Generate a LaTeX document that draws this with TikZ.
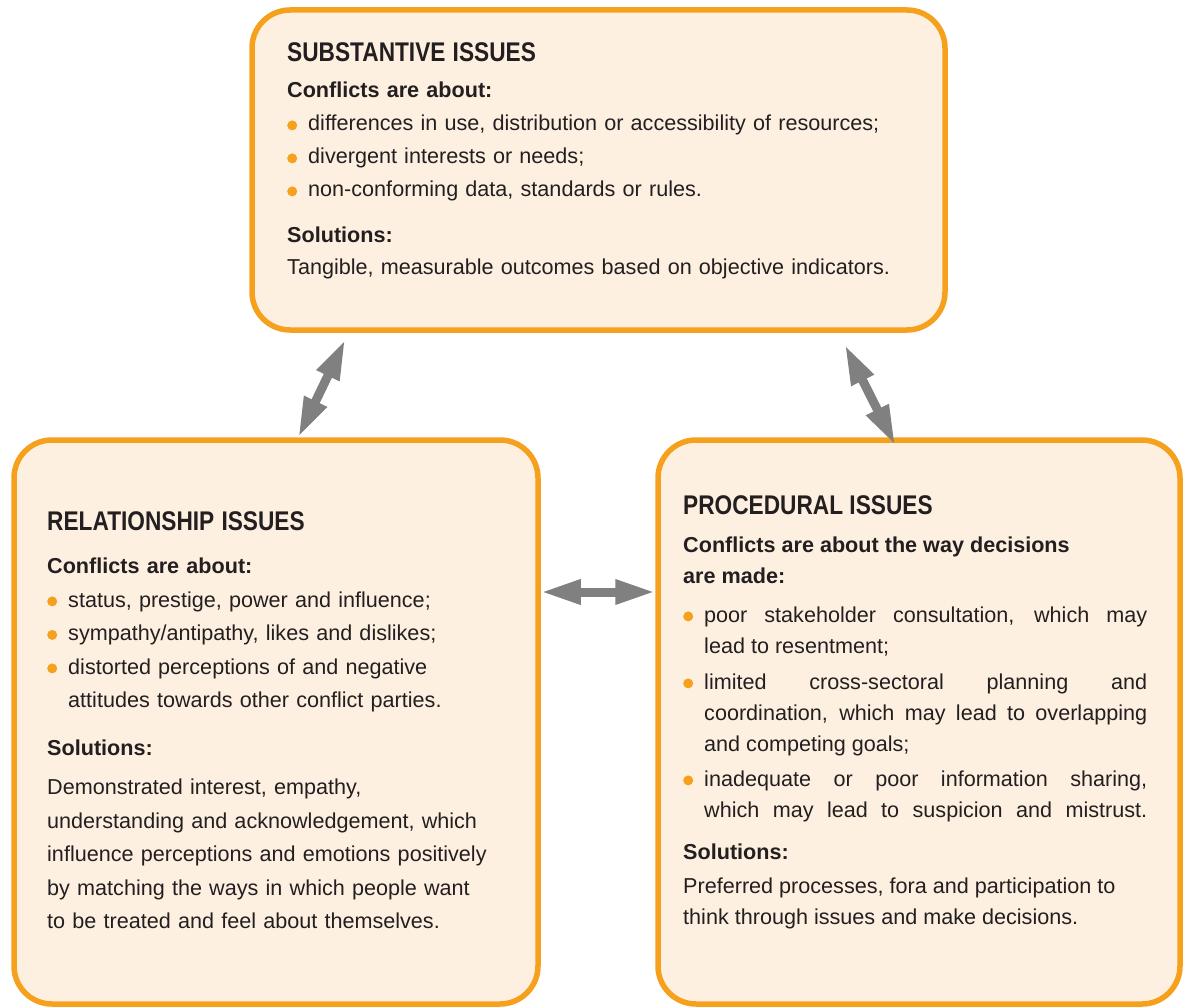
\documentclass[tikz,border=0pt]{standalone}
\usepackage{fontspec}
\setmainfont{Liberation Sans}
\newfontfamily\issuetitlefont{Liberation Sans}[FakeStretch=0.84]
\usetikzlibrary{arrows.meta,calc}
\definecolor{issueorange}{HTML}{F6A11E}
\definecolor{issuefill}{HTML}{FEF0E1}
\definecolor{issuegray}{HTML}{808080}
\definecolor{issueink}{HTML}{231F20}
\newcommand{\issuebullet}{\makebox[21pt][l]{\tikz[baseline=-5.6pt]\fill[issueorange] (5pt,0pt) circle (5pt);}}
\newcommand{\issueitem}[1][0pt]{\par\vspace{#1}\hangindent=21pt\hangafter=1\noindent\issuebullet\ignorespaces}
\newcommand{\issuetitle}[1]{{\issuetitlefont\fontsize{27}{27}\selectfont\bfseries #1\par}}
\begin{document}
\begin{tikzpicture}[x=1pt,y=-1pt,
  issuebox/.style={draw=issueorange,fill=issuefill,line width=5.5pt,rounded corners=38pt,inner sep=0pt},
  issuetext/.style={text=issueink,anchor=base west,inner sep=0pt,font=\fontsize{21.6}{#1}\selectfont},
  twoway/.style={draw=issuegray,line width=9pt,{Triangle[length=40pt,width=23pt]}-{Triangle[length=40pt,width=23pt]}}]
\useasboundingbox (0,0) rectangle (1183,1008);
\node[issuebox,minimum width=693pt,minimum height=320pt] (subst) at (598.5,170) {};
\node[issuebox,minimum width=524pt,minimum height=564pt] (rel) at (276,722) {};
\node[issuebox,minimum width=522pt,minimum height=564pt] (proc) at (919,722) {};
\node[issuetext=33pt,text width=640pt,align=left] (substtext) at (287,62) {%
  \issuetitle{SUBSTANTIVE ISSUES}
  \vspace{3pt}{\bfseries Conflicts are about:}
  \issueitem differences in use, distribution or accessibility of resources;
  \issueitem divergent interests or needs;
  \issueitem non-conforming data, standards or rules.\par
  \vspace{13pt}{\bfseries Solutions:}\par
  \vspace{-1pt}Tangible, measurable outcomes based on objective indicators.};
\node[issuetext=33.5pt,text width=480pt,align=left] (reltext) at (47,530) {%
  \issuetitle{RELATIONSHIP ISSUES}
  \vspace{10pt}{\bfseries Conflicts are about:}
  \issueitem status, prestige, power and influence;
  \issueitem sympathy/antipathy, likes and dislikes;
  \issueitem distorted perceptions of and negative\newline attitudes towards other conflict parties.\par
  \vspace{14pt}{\bfseries Solutions:}\par
  \vspace{6pt}Demonstrated interest, empathy,\\ understanding and acknowledgement, which\\
  influence perceptions and emotions positively\\ by matching the ways in which people want\\
  to be treated and feel about themselves.};
\node[issuetext=31pt,text width=464pt,align=justify] (proctext) at (683,514) {%
  \issuetitle{PROCEDURAL ISSUES}
  \vspace{7pt}{\bfseries Conflicts are about the way decisions\\ are made:}
  \issueitem[8pt] poor stakeholder consultation, which may\linebreak lead to resentment;
  \issueitem[5pt] limited cross-sectoral planning and\linebreak coordination, which may lead to overlapping\linebreak and competing goals;
  \issueitem[4pt] inadequate or poor information sharing,\linebreak which may lead to suspicion and mistrust.{\parfillskip=0pt\par}
  \vspace{11pt}{\bfseries Solutions:}\par
  \vspace{3pt}Preferred processes, fora and participation to\\ think through issues and make decisions.};
\draw[twoway] ([shift={(96pt,-7pt)}]subst.south west) -- ([xshift=287pt]rel.north west);
\draw[twoway] ([shift={(-103pt,-12pt)}]subst.south east) -- ([shift={(240pt,-8pt)}]proc.north west);
\draw[twoway] ([yshift=130pt]rel.east) coordinate (mid) -- (proc.west |- mid);
\end{tikzpicture}
\end{document}
